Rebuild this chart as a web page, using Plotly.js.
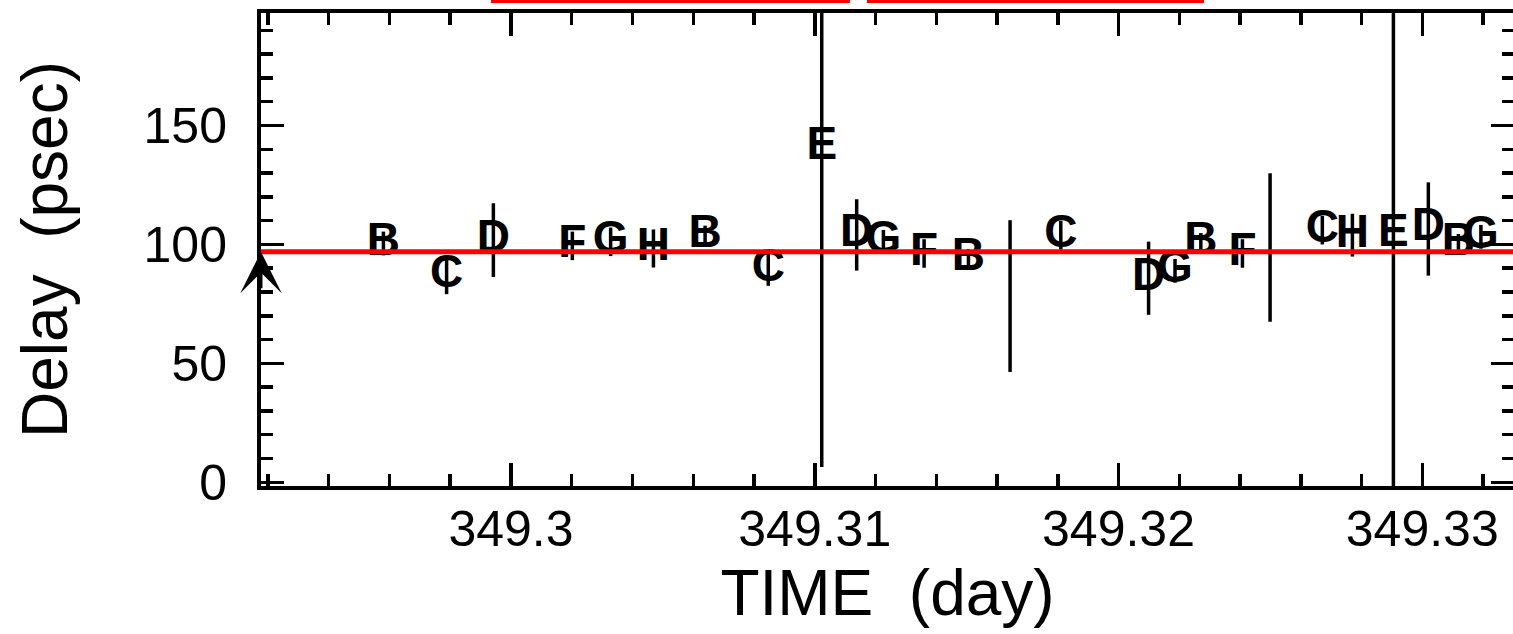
<!DOCTYPE html>
<html><head><meta charset="utf-8">
<script src="https://cdn.plot.ly/plotly-3.0.1.min.js"></script>
<style>html,body{margin:0;padding:0;overflow:hidden;background:#fff}#chart{width:1520px;height:634px}</style>
</head><body><div id="chart"></div>
<script>
// Observation times (day)
const times = [349.29580, 349.29788, 349.29942, 349.30202, 349.30328, 349.30469, 349.30639,
  349.30847, 349.31023, 349.31138, 349.31226, 349.31360, 349.31506, 349.31643,
  349.31810, 349.32099, 349.32186, 349.32271, 349.32408, 349.32499,
  349.32671, 349.32770, 349.32905, 349.33020, 349.33119, 349.33193];
// Delay (psec)
const delays = [100.4, 86.8, 101.8, 99.4, 101.1, 98.3, 103.9,
  89.6, 140.7, 104.0, 101.1, 96.2, 94.1, 78.3,
  103.9, 85.8, 88.9, 100.8, 96.2, 98.7,
  106.0, 103.9, 104.3, 106.5, 100.4, 103.2];
// Delay error (psec)
const errors = [5, 7.7, 15.5, 6, 6, 8, 4,
  7, 134.3, 15, 5, 6, 4, 31.9,
  6, 15.4, 5, 4, 6, 31.2,
  6, 9, 115, 19.6, 4, 5];
// Plot symbols (station letters)
const labels = ["B", "C", "D", "F", "G", "H", "B",
  "C", "E", "D", "G", "F", "B", "",
  "C", "D", "G", "B", "F", "",
  "C", "H", "E", "D", "B", "G"];
const refDelay = 96.9;
const xTickVals = [349.30, 349.31, 349.32, 349.33];
const xTickText = ["349.3", "349.31", "349.32", "349.33"];
const yTickVals = [0, 50, 100, 150];

const FONT = "Liberation Sans, Arial, sans-serif";

const trace = {
  x: times, y: delays, text: labels,
  type: "scatter", mode: "text",
  textposition: "middle center",
  textfont: {family: FONT, size: 46, color: "#000", weight: "bold"},
  error_y: {type: "data", array: errors, visible: true, color: "#000", thickness: 3.5, width: 0},
  showlegend: false, hoverinfo: "x+y+text"
};

const axisCommon = {
  showline: true, linecolor: "#000", linewidth: 4, mirror: "allticks",
  ticks: "inside", tickcolor: "#000", tickwidth: 3.5, ticklen: 23,
  showgrid: false, zeroline: false,
  tickfont: {family: FONT, size: 50, color: "#000"}
};

const layout = {
  width: 1520, height: 634,
  margin: {l: 261, r: 6, t: 13, b: 148},
  paper_bgcolor: "#fff", plot_bgcolor: "#fff",
  xaxis: Object.assign({}, axisCommon, {
    range: [349.29177, 349.33302],
    tickmode: "array", tickvals: xTickVals, ticktext: xTickText,
    minor: {dtick: 0.002, tick0: 349.3, ticks: "inside", ticklen: 12, tickwidth: 3.5, tickcolor: "#000"},
    ticklabelstandoff: -4,
    title: {text: "TIME\u00A0 (day)", font: {family: FONT, size: 64, color: "#000"}, standoff: 0}
  }),
  yaxis: Object.assign({}, axisCommon, {
    range: [-1.55, 197.3],
    tickmode: "array", tickvals: yTickVals,
    minor: {dtick: 10, tick0: 0, ticks: "inside", ticklen: 12, tickwidth: 3.5, tickcolor: "#000"},
    ticklabelstandoff: 20,
    title: {text: "Delay\u00A0 (psec)", font: {family: FONT, size: 64, color: "#000"}, standoff: 56}
  }),
  shapes: [
    {type: "line", xref: "paper", x0: 0, x1: 1, yref: "y", y0: refDelay, y1: refDelay,
     line: {color: "#ff0000", width: 5}, layer: "above"},
    {type: "line", xref: "paper", x0: 0.1836, x1: 0.470, yref: "paper", y0: 1.0245, y1: 1.0245,
     line: {color: "#ff0000", width: 3}},
    {type: "line", xref: "paper", x0: 0.4836, x1: 0.7526, yref: "paper", y0: 1.0245, y1: 1.0245,
     line: {color: "#ff0000", width: 3}}
  ],
  annotations: [
    {xref: "paper", x: 0, yref: "y", y: refDelay, text: "", showarrow: true,
     arrowhead: 3, arrowsize: 2.3, arrowwidth: 3, arrowcolor: "#000", ax: 0, ay: 38, standoff: 0}
  ]
};

Plotly.newPlot("chart", [trace], layout, {displayModeBar: false, staticPlot: true});
</script>
</body></html>
